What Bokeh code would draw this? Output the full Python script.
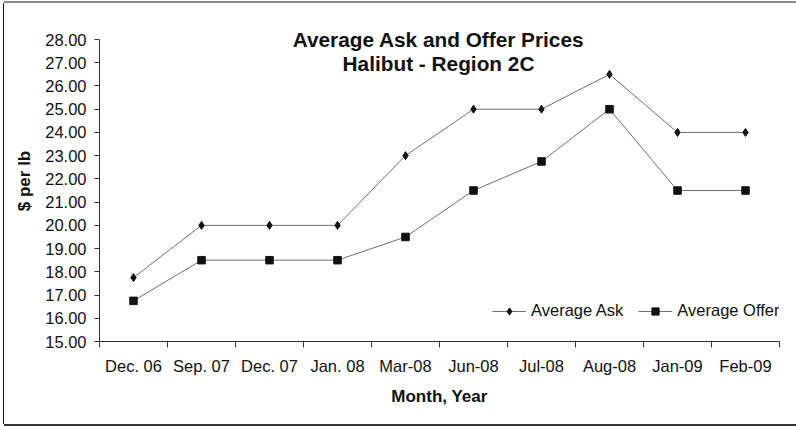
from bokeh.plotting import figure
from bokeh.models import (FactorRange, Range1d, LinearAxis, FixedTicker, NumeralTickFormatter,
                          Label, Legend)
from bokeh.embed import file_html
from bokeh.resources import INLINE

months = ["Dec. 06", "Sep. 07", "Dec. 07", "Jan. 08", "Mar-08", "Jun-08", "Jul-08",
          "Aug-08", "Jan-09", "Feb-09"]
avg_ask = [17.75, 20.0, 20.0, 20.0, 23.0, 25.0, 25.0, 26.5, 24.0, 24.0]
avg_offer = [16.75, 18.5, 18.5, 18.5, 19.5, 21.5, 22.75, 25.0, 21.5, 21.5]
y_ticks = [15, 16, 17, 18, 19, 20, 21, 22, 23, 24, 25, 26, 27, 28]
title_lines = ["Average Ask and Offer Prices", "Halibut - Region 2C"]

FONT = "Liberation Sans"
REG = "16.5px"

# axis spans 15..28 over 302 px; the frame is extended 19 px above the axis top
# so the overlapping chart title is not clipped
Y_MIN, Y_MAX = y_ticks[0], y_ticks[-1]
px_per_unit = 302 / (Y_MAX - Y_MIN)
y_end = Y_MAX + 19 / px_per_unit

p = figure(width=792, height=421, x_range=FactorRange(factors=months, range_padding=0),
           y_range=Range1d(Y_MIN, y_end), x_axis_type=None, y_axis_type=None,
           output_backend="svg", toolbar_location=None,
           min_border_left=95, min_border_right=17, min_border_top=17, min_border_bottom=83)
p.styles = {"margin-left": "4px", "margin-top": "3px",
            "box-shadow": "-1px 0 0 0 #111111, 0 -2px 0 0 #8a8a8a, 0 2px 0 0 #333333"}
p.xgrid.visible = False
p.ygrid.visible = False
p.outline_line_color = None
p.background_fill_color = "white"
p.border_fill_color = "white"

# y axis
yaxis = LinearAxis(ticker=FixedTicker(ticks=y_ticks),
                   formatter=NumeralTickFormatter(format="0.00"),
                   axis_label="$ per lb", bounds=(Y_MIN, Y_MAX))
yaxis.axis_line_color = "#333333"
yaxis.major_tick_line_color = "#333333"
yaxis.major_tick_out = 5
yaxis.major_tick_in = 0
yaxis.minor_tick_line_color = None
yaxis.major_label_text_font = FONT
yaxis.major_label_text_font_size = REG
yaxis.major_label_text_color = "#111111"
yaxis.major_label_standoff = 8
yaxis.axis_label_text_font = FONT
yaxis.axis_label_text_font_size = "17px"
yaxis.axis_label_text_font_style = "bold"
yaxis.axis_label_text_color = "#111111"
yaxis.axis_label_standoff = 8
p.add_layout(yaxis, "left")

# x axis: labels at category centres, ticks on category boundaries
centers = [i + 0.5 for i in range(len(months))]
bounds = [float(i) for i in range(len(months) + 1)]
xaxis = LinearAxis(ticker=FixedTicker(ticks=centers, minor_ticks=bounds),
                   axis_label="Month, Year")
xaxis.major_label_overrides = {c: m for c, m in zip(centers, months)}
xaxis.axis_line_color = "#333333"
xaxis.major_tick_line_color = None
xaxis.major_tick_out = 0
xaxis.major_tick_in = 0
xaxis.minor_tick_line_color = "#333333"
xaxis.minor_tick_out = 6
xaxis.minor_tick_in = 0
xaxis.major_label_text_font = FONT
xaxis.major_label_text_font_size = REG
xaxis.major_label_text_color = "#111111"
xaxis.major_label_standoff = 9
xaxis.axis_label_text_font = FONT
xaxis.axis_label_text_font_size = "17px"
xaxis.axis_label_text_font_style = "bold"
xaxis.axis_label_text_color = "#111111"
xaxis.axis_label_standoff = 9
p.add_layout(xaxis, "below")

LINE = "#707070"
l1 = p.line(months, avg_ask, line_color=LINE, line_width=1)
s1 = p.scatter(months, avg_ask, marker="diamond", size=8,
               fill_color="#111111", line_color="#111111")
l2 = p.line(months, avg_offer, line_color=LINE, line_width=1)
s2 = p.scatter(months, avg_offer, marker="square", size=7.5,
               fill_color="#111111", line_color="#111111")

legend = Legend(items=[("Average Ask", [l1, s1]), ("Average Offer", [l2, s2])],
                orientation="horizontal", location=(393, 21))
legend.padding = 0
legend.margin = 0
legend.spacing = 15
legend.glyph_width = 34
legend.glyph_height = 18
legend.label_standoff = 5
legend.label_height = 18
legend.label_text_font = FONT
legend.label_text_font_size = REG
legend.label_text_color = "#111111"
legend.border_line_color = None
legend.background_fill_alpha = 0
p.add_layout(legend, "center")

for txt, yy in zip(title_lines, [302, 278]):
    p.add_layout(Label(x=339, y=yy, x_units="screen", y_units="screen", text=txt,
                       text_align="center", text_baseline="middle",
                       text_font=FONT, text_font_size="20.8px", text_font_style="bold",
                       text_color="#111111"))

open("out.html", "w").write(file_html(p, INLINE))
